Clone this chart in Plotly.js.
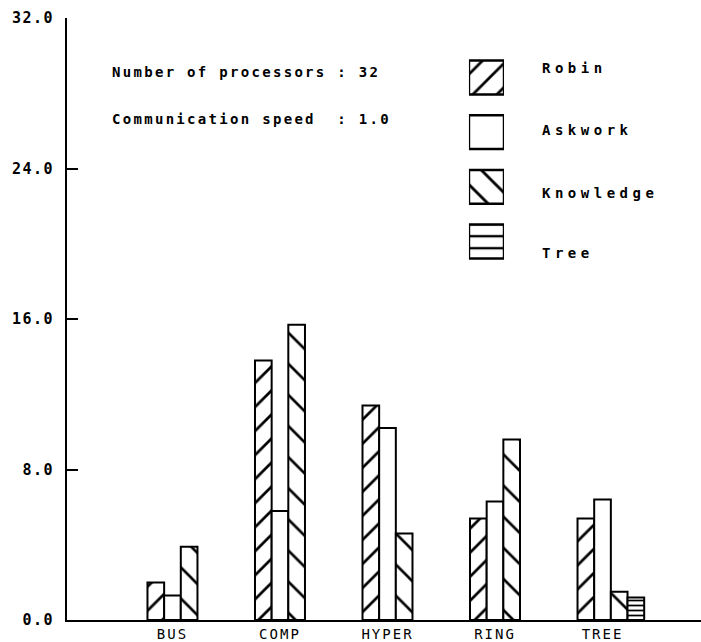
<!DOCTYPE html>
<html>
<head>
<meta charset="utf-8">
<script src="https://cdn.plot.ly/plotly-3.0.1.min.js"></script>
<style>
  html, body { margin: 0; padding: 0; background: #fff; }
  #chart { width: 701px; height: 642px; }
  /* plotter-style wide lettering */
  .ytick text { letter-spacing: 1.5px; }
  .xtick text { letter-spacing: 2px; }
  .annotation[data-index="0"] text, .annotation[data-index="1"] text { letter-spacing: 2.3px; }
  .annotation[data-index="2"] text, .annotation[data-index="3"] text,
  .annotation[data-index="4"] text, .annotation[data-index="5"] text { letter-spacing: 4.5px; }
</style>
</head>
<body>
<div id="chart"></div>
<script>
// Speed-up per interconnect topology and load-balancing strategy
const categories = ['BUS', 'COMP', 'HYPER', 'RING', 'TREE'];
const robin     = [2.0, 13.8, 11.4, 5.4, 5.4];
const askwork   = [1.3, 5.8, 10.2, 6.3, 6.4];
const knowledge = [3.9, 15.7, 4.6, 9.6, 1.5];
const treeCategories = ['TREE'];
const tree      = [1.2];

const seriesNames = ['Robin', 'Askwork', 'Knowledge', 'Tree'];
const yTickVals = [0, 8, 16, 24, 32];
const yTickText = ['0.0', '8.0', '16.0', '24.0', '32.0'];
const infoLines = ['Number of processors : 32', 'Communication speed\u00a0\u00a0: 1.0'];

const BAR_W = 0.155;
const OUTLINE = { color: '#000', width: 2 };

const patterns = [
  { shape: '/',  size: 17, solidity: 0.16 },
  { shape: '',   size: 8,  solidity: 0.2 },
  { shape: '\\', size: 22, solidity: 0.12 },
  { shape: '-',  size: 5,  solidity: 0.35 }
];
const legendPatterns = [
  { shape: '/',  size: 17, solidity: 0.16 },
  { shape: '',   size: 8,  solidity: 0.2 },
  { shape: '\\', size: 19, solidity: 0.15 },
  { shape: '-',  size: 12, solidity: 0.2 }
];

function pat(p) {
  return Object.assign({ fgcolor: '#000', bgcolor: '#fff', fillmode: 'replace' }, p);
}

const seriesX = [categories, categories, categories, treeCategories];
const seriesY = [robin, askwork, knowledge, tree];

const traces = seriesNames.map((name, i) => ({
  type: 'bar',
  name: name,
  x: seriesX[i],
  y: seriesY[i],
  width: BAR_W,
  offset: (i - 1.5) * BAR_W,
  marker: { color: '#fff', line: OUTLINE, pattern: pat(patterns[i]) },
  showlegend: false,
  hoverinfo: 'x+y+name'
}));

// Hand-drawn key: one patterned swatch per strategy on a hidden axis pair
seriesNames.forEach((name, i) => {
  traces.push({
    type: 'bar',
    orientation: 'h',
    name: name,
    x: [1],
    y: [seriesNames.length - 1 - i],
    width: 0.62,
    xaxis: 'x2',
    yaxis: 'y2',
    marker: { color: '#fff', line: { color: '#000', width: 2.5 }, pattern: pat(legendPatterns[i]) },
    showlegend: false,
    hoverinfo: 'skip'
  });
});

const monoBold = { family: 'DejaVu Sans Mono', size: 14, color: '#000', weight: 'bold' };

const annotations = [
  { text: infoLines[0], x: 0.0678, y: 0.9103 },
  { text: infoLines[1], x: 0.0678, y: 0.8314 }
].concat(seriesNames.map((name, i) => ({
  text: name, x: 0.746, y: [0.917, 0.814, 0.709, 0.6096][i]
}))).map(a => Object.assign({
  xref: 'paper', yref: 'paper', xanchor: 'left', yanchor: 'middle',
  align: 'left', showarrow: false, font: monoBold
}, a));

const layout = {
  width: 701,
  height: 642,
  margin: { l: 67, r: 0, t: 18, b: 22 },
  paper_bgcolor: '#fff',
  plot_bgcolor: '#fff',
  barmode: 'overlay',
  xaxis: {
    type: 'category',
    categoryorder: 'array',
    categoryarray: categories,
    range: [-0.981, 4.916],
    showline: true, linecolor: '#000', linewidth: 2,
    showgrid: false, zeroline: false, ticks: '',
    tickfont: { family: 'DejaVu Sans Mono', size: 14, color: '#000' },
    ticklabelstandoff: 0
  },
  yaxis: {
    range: [0, 32],
    tickvals: yTickVals,
    ticktext: yTickText,
    ticks: 'inside', ticklen: 11, tickwidth: 2, tickcolor: '#000',
    showline: true, linecolor: '#000', linewidth: 2,
    showgrid: false, zeroline: false,
    tickfont: { family: 'DejaVu Sans Mono', size: 15, color: '#000', weight: 'bold' },
    ticklabelstandoff: 8
  },
  xaxis2: { domain: [0.634, 0.6893], range: [0, 1], visible: false, anchor: 'y2', fixedrange: true },
  yaxis2: { domain: [0.5834, 0.9465], range: [-0.5, 3.5], visible: false, anchor: 'x2', fixedrange: true },
  annotations: annotations,
  showlegend: false
};

Plotly.newPlot('chart', traces, layout, { displayModeBar: false, staticPlot: true });
</script>
</body>
</html>
